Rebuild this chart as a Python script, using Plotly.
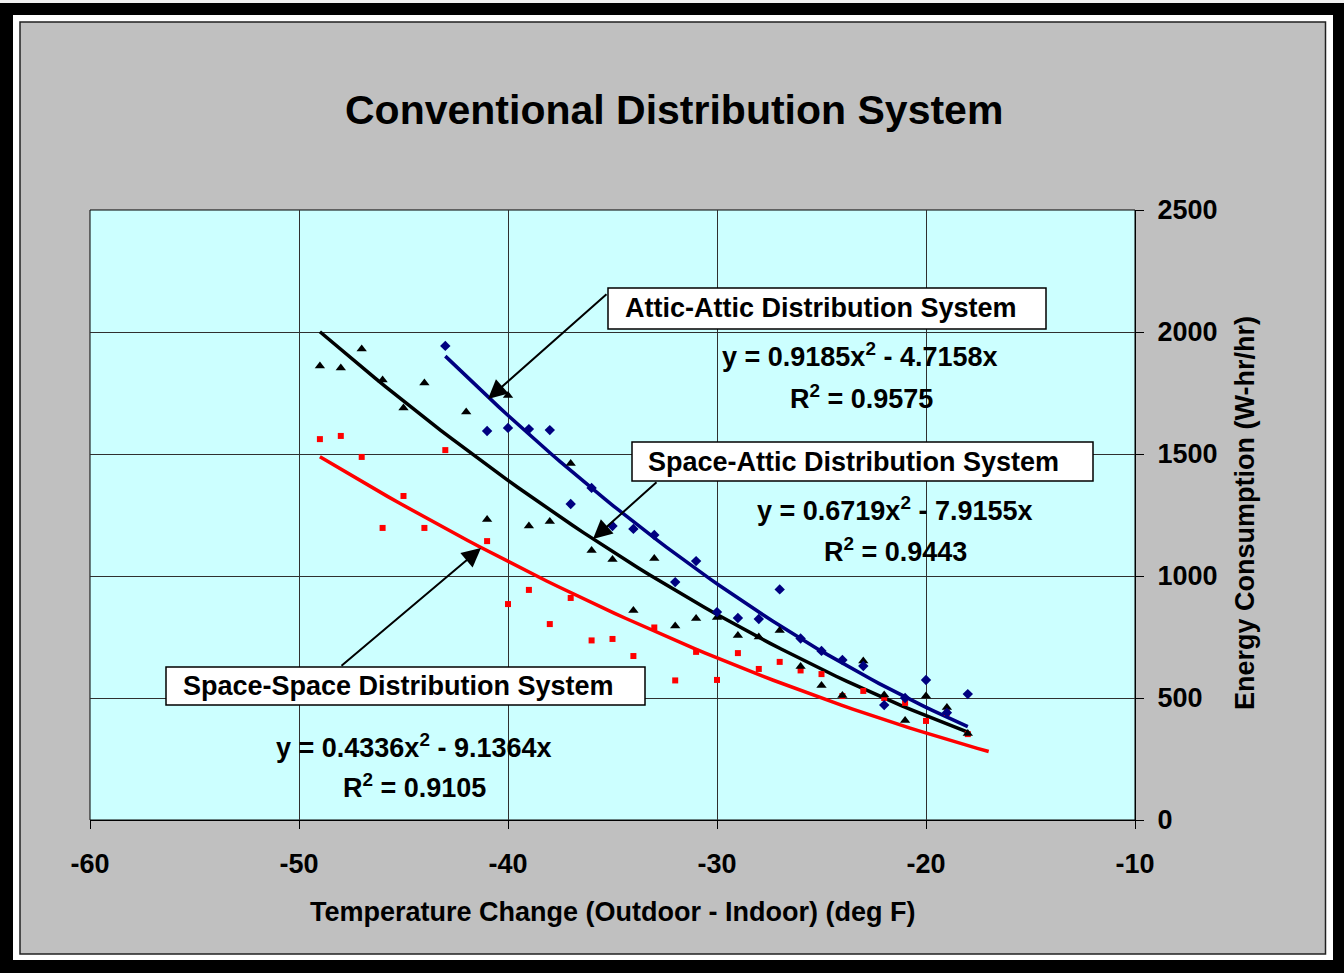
import numpy as np
import plotly.graph_objects as go

# ---------------- data ----------------
temp_attic = [-43, -41, -40, -39, -38, -37, -36, -35, -34, -33, -32, -31, -30, -29,
              -28, -27, -26, -25, -24, -23, -22, -21, -20, -19, -18]
energy_attic = [1943, 1594, 1607, 1602, 1598, 1295, 1361, 1205, 1193, 1168, 975, 1061, 852, 828,
                824, 945, 744, 693, 656, 631, 471, 500, 574, 440, 516]

temp_space_attic = [-49, -48, -47, -46, -45, -44, -42, -41, -40, -39, -38, -37, -36, -35, -34,
                    -33, -32, -31, -30, -29, -28, -27, -26, -25, -24, -23, -22, -21, -20, -19, -18]
energy_space_attic = [1861, 1852, 1930, 1803, 1689, 1791, 1672, 1232, 1740, 1205, 1223, 1461, 1105, 1068, 859,
                      1072, 795, 826, 830, 756, 750, 777, 629, 551, 510, 652, 512, 408, 508, 461, 354]

temp_space_space = [-49, -48, -47, -46, -45, -44, -43, -41, -40, -39, -38, -37, -36, -35, -34,
                    -33, -32, -31, -30, -29, -28, -27, -26, -25, -24, -23, -22, -21, -20, -19, -18]
energy_space_space = [1561, 1574, 1488, 1197, 1328, 1197, 1516, 1143, 885, 943, 803, 910, 736, 742, 672,
                      789, 572, 689, 574, 684, 619, 648, 613, 598, 508, 529, 500, 480, 406, 439, 352]

# displayed trendline coefficients (y = a*x^2 + b*x)
coef_attic = (0.9185, -4.7158)
coef_space_attic = (0.6719, -7.9155)
coef_space_space = (0.4336, -9.1364)
range_attic = (-43, -18)
range_space_attic = (-49, -18)
range_space_space = (-49, -17)

x_ticks = [-60, -50, -40, -30, -20, -10]
y_ticks = [0, 500, 1000, 1500, 2000, 2500]

# ---------------- layout geometry ----------------
W, H = 1344, 973
L, R, T, B = 90, 1135, 210, 820


def px(x):
    return (x - L) / (R - L)


def py(y):
    return (B - y) / (B - T)


FONT = "Arial, Liberation Sans, sans-serif"
NAVY = "#000080"

fig = go.Figure()


def trend(coef, rng):
    xs = np.linspace(rng[0], rng[1], 60)
    return xs, coef[0] * xs ** 2 + coef[1] * xs


for coef, rng, col in [(coef_space_space, range_space_space, "#FF0000"),
                       (coef_space_attic, range_space_attic, "#000000"),
                       (coef_attic, range_attic, NAVY)]:
    xs, ys = trend(coef, rng)
    fig.add_trace(go.Scatter(x=xs, y=ys, mode="lines", line=dict(color=col, width=3.5),
                             showlegend=False, hoverinfo="skip"))

fig.add_trace(go.Scatter(x=temp_space_space, y=energy_space_space, mode="markers",
                         marker=dict(symbol="square", size=6, color="#FF0000"), showlegend=False))
fig.add_trace(go.Scatter(x=temp_space_attic, y=energy_space_attic, mode="markers",
                         marker=dict(symbol="triangle-up", size=9, color="#000000"), showlegend=False))
fig.add_trace(go.Scatter(x=temp_attic, y=energy_attic, mode="markers",
                         marker=dict(symbol="diamond", size=8, color=NAVY), showlegend=False))

shapes = []


def rect(x0, y0, x1, y1, fill, line_color=None, lw=0, layer="below"):
    shapes.append(dict(type="rect", xref="paper", yref="paper",
                       x0=px(x0), x1=px(x1), y0=py(y1), y1=py(y0),
                       fillcolor=fill, layer=layer,
                       line=dict(color=line_color or fill, width=lw)))


# frame
rect(0, 0, W, 3, "#F0F0F0")
rect(13, 15, 1333, 960, "#FFFFFF")
rect(20, 22, 1325.5, 954, "#C0C0C0", "#202020", 1.5)
rect(L, T, R, B, "#CCFFFF", "#000000", 1)

# label boxes
rect(608, 288, 1046, 329, "#FFFFFF", "#000000", 1.5, layer="above")
rect(632, 442, 1093, 481, "#FFFFFF", "#000000", 1.5, layer="above")
rect(166, 667, 645, 705, "#FFFFFF", "#000000", 1.5, layer="above")

annotations = []


def text(x, y, s, size=27, xanchor="center", angle=0):
    annotations.append(dict(xref="paper", yref="paper", x=px(x), y=py(y), text=s,
                            showarrow=False, xanchor=xanchor, yanchor="middle",
                            textangle=angle,
                            font=dict(family=FONT, size=size, color="#000000", weight="bold")))


def arrow(tipx, tipy, tailx, taily):
    annotations.append(dict(xref="paper", yref="paper", x=px(tipx), y=py(tipy), text="",
                            showarrow=True, ax=tailx - tipx, ay=taily - tipy,
                            arrowhead=2, arrowsize=1.9, arrowwidth=2, arrowcolor="#000000",
                            standoff=0))


text(674, 110, "Conventional Distribution System", size=41)
text(612, 912, "Temperature Change (Outdoor - Indoor) (deg F)")
text(1245, 513, "Energy Consumption (W-hr/hr)", angle=-90)

text(623, 308, "Attic-Attic Distribution System", xanchor="left")
text(646, 462, "Space-Attic Distribution System", xanchor="left")
text(181, 686, "Space-Space Distribution System", xanchor="left")

text(860, 355, "y = 0.9185x<sup>2</sup> - 4.7158x")
text(861, 397, "R<sup>2</sup> = 0.9575")
text(895, 509, "y = 0.6719x<sup>2</sup> - 7.9155x")
text(895, 550, "R<sup>2</sup> = 0.9443")
text(414, 746, "y = 0.4336x<sup>2</sup> - 9.1364x")
text(414, 786, "R<sup>2</sup> = 0.9105")

arrow(488, 399, 608, 293)
arrow(593, 539, 658, 481)
arrow(481, 548, 340, 667)

fig.update_layout(
    width=W, height=H,
    margin=dict(l=L, r=W - R, t=T, b=H - B, pad=0),
    paper_bgcolor="#000000",
    plot_bgcolor="rgba(0,0,0,0)",
    shapes=shapes,
    annotations=annotations,
    xaxis=dict(range=[-60, -10], tickvals=x_ticks, ticktext=[str(v) for v in x_ticks],
               showgrid=True, gridcolor="#303030", gridwidth=1, zeroline=False,
               ticks="outside", ticklen=8, tickcolor="#000000", tickwidth=1,
               ticklabelstandoff=12,
               showline=True, linecolor="#000000", linewidth=1,
               tickfont=dict(family=FONT, size=27, color="#000000", weight="bold")),
    yaxis=dict(range=[0, 2500], tickvals=y_ticks, ticktext=[str(v) for v in y_ticks],
               side="right", showgrid=True, gridcolor="#303030", gridwidth=1, zeroline=False,
               ticks="outside", ticklen=8, tickcolor="#000000", tickwidth=1,
               ticklabelstandoff=8,
               showline=True, linecolor="#000000", linewidth=1,
               tickfont=dict(family=FONT, size=27, color="#000000", weight="bold")),
)

fig.write_html("out.html")
